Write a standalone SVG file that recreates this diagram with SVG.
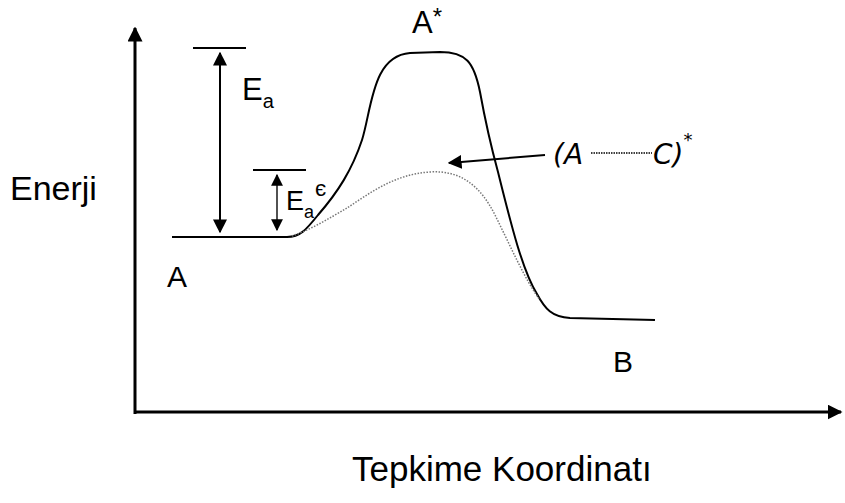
<svg xmlns="http://www.w3.org/2000/svg" width="845" height="503" viewBox="0 0 845 503">
<defs>
<style>
.t{font-family:"Liberation Sans",Arial,sans-serif;fill:#000}
.ax{stroke:#000;stroke-width:3;fill:none}
.ln{stroke:#000;stroke-width:2;fill:none}
.it{font-family:"DejaVu Sans","Liberation Sans",sans-serif;font-style:italic;fill:#000}
</style>
<marker id="ah" viewBox="0 0 10 10" refX="9" refY="5" markerWidth="5" markerHeight="5" orient="auto-start-reverse" markerUnits="strokeWidth">
<path d="M0,0 L10,5 L0,10 z" fill="#000"/>
</marker>
<marker id="ah2" viewBox="0 0 10 10" refX="9" refY="5" markerWidth="7" markerHeight="7" orient="auto-start-reverse" markerUnits="strokeWidth">
<path d="M0,0 L10,5 L0,10 z" fill="#000"/>
</marker>
</defs>
<rect width="845" height="503" fill="#fff"/>
<g id="connectors">
<line class="ax" x1="135" y1="414" x2="135" y2="28" marker-end="url(#ah)"/>
<line class="ax" x1="134" y1="412" x2="841" y2="412" marker-end="url(#ah)"/>
<line class="ln" x1="193" y1="48" x2="246" y2="48"/>
<line class="ln" x1="220" y1="53" x2="220" y2="232" marker-start="url(#ah2)" marker-end="url(#ah2)"/>
<line class="ln" x1="253" y1="170" x2="306" y2="170"/>
<line stroke="#333" stroke-width="1.7" x1="277" y1="175" x2="277" y2="230" marker-start="url(#ah2)" marker-end="url(#ah2)"/>
<path class="ln" stroke-width="1.6" d="M172,237 L287,237 C300,237 306,230 318,215 C338,192 352,170 362,140 C372,108 372,56 410,53 L440,52 C466,52 474,62 480,92 C486,125 492,150 498,172 C510,220 522,270 537,294 C545,309 552,317 570,318 L655,320"/>
<path fill="none" stroke="#777" stroke-width="1.5" stroke-dasharray="1.5,1.5" d="M292,236 C310,230 330,218 347,208 C370,193 395,174 430,172 C460,170 480,185 495,215 C510,245 525,280 540,300"/>
<line class="ln" x1="545" y1="155" x2="449" y2="163" marker-end="url(#ah2)"/>
</g>
<g id="label-enerji"><text class="t" x="10" y="200" font-size="34">Enerji</text></g>
<g id="label-ea"><text class="t" x="242" y="100" font-size="31">E<tspan font-size="20" dy="8">a</tspan></text></g>
<g id="label-ea2"><text class="t" x="286" y="210" font-size="27">E<tspan font-size="18" dy="8">a</tspan><tspan font-size="22" dy="-22" dx="1">є</tspan></text></g>
<g id="label-astar"><text class="t" x="412" y="33" font-size="31">A<tspan font-size="24" dy="-8">*</tspan></text></g>
<g id="label-a"><text class="t" x="167" y="287" font-size="30">A</text></g>
<g id="label-b"><text class="t" x="613" y="372" font-size="30">B</text></g>
<g id="label-complex">
<text class="it" x="553" y="164" font-size="28">(A</text>
<line x1="591" y1="153" x2="652" y2="153" stroke="#000" stroke-width="1.5" stroke-dasharray="1.5,1"/>
<text class="it" x="653" y="164" font-size="28">C)<tspan font-size="18" dy="-18">*</tspan></text>
</g>
<g id="label-x"><text class="t" x="352" y="481" font-size="35">Tepkime Koordinatı</text></g>
</svg>
